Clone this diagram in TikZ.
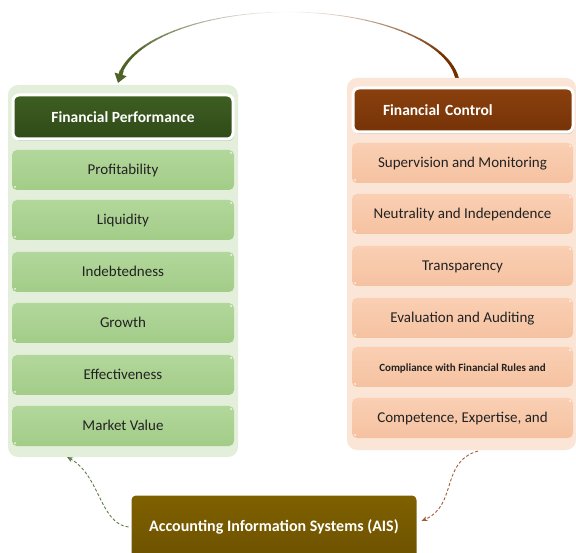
\documentclass[tikz,border=0pt]{standalone}
\usepackage{fontspec}
\setmainfont{Carlito}
\usetikzlibrary{shadows,arrows.meta,calc}

\definecolor{gPanel}{HTML}{E3EFDA}
\definecolor{gItemTop}{HTML}{B2D79B}
\definecolor{gItemBot}{HTML}{A3CC88}
\definecolor{gHeadTop}{HTML}{3E5E22}
\definecolor{gHeadBot}{HTML}{2F4A18}
\definecolor{oPanel}{HTML}{FBE5D6}
\definecolor{oItemTop}{HTML}{FACFB3}
\definecolor{oItemBot}{HTML}{F5C2A1}
\definecolor{oHeadTop}{HTML}{8A400E}
\definecolor{oHeadBot}{HTML}{763307}
\definecolor{aisTop}{HTML}{806100}
\definecolor{aisBot}{HTML}{6C5100}
\definecolor{arcR}{HTML}{743000}
\definecolor{arcL}{HTML}{4F6228}
\definecolor{dashG}{HTML}{5E7D45}
\definecolor{dashO}{HTML}{A65A35}
\definecolor{txt}{HTML}{222222}

\tikzset{
  glint/.style={path picture={
      \fill[white,opacity=0.85] ([xshift=-3pt,yshift=-3pt]path picture bounding box.north east) circle (1pt);
      \fill[white,opacity=0.85] ([xshift=3pt,yshift=3pt]path picture bounding box.south west) circle (1pt);}},
  itembox/.style={rounded corners=5pt, minimum height=40pt, text=txt, glint,
      text height=1.9ex, text depth=0pt,
      font=\fontsize{15}{17}\selectfont},
  gitem/.style={itembox, minimum width=222pt, top color=gItemTop, bottom color=gItemBot},
  oitem/.style={itembox, minimum width=221pt, top color=oItemTop, bottom color=oItemBot},
  headbox/.style={rounded corners=6pt, draw=white, line width=3pt, text=white,
      font=\bfseries\fontsize{15.5}{17}\selectfont,
      drop shadow={opacity=0.35, shadow xshift=1pt, shadow yshift=-2pt}},
  dasharrow/.style={dashed, line width=0.9pt, dash pattern=on 3pt off 2pt,
      -{Stealth[length=6pt,width=5pt]}},
}

\begin{document}
\begin{tikzpicture}[x=1pt,y=-1pt]
\useasboundingbox (0,0) rectangle (576,553);

% ---- curved arrow from Financial Control to Financial Performance
\coordinate (arcCenter) at (288,86);
\foreach \i in {-1,...,29}{
  \pgfmathsetmacro\aa{\i*3}
  \pgfmathsetmacro\bb{\i*3+3}
  \pgfmathsetmacro\tt{abs(\aa+1.5-90)/90}
  \pgfmathsetmacro\mix{100*min(1,1.4*\tt)}
  \pgfmathsetmacro\lw{0.6+3.5*\tt*\tt}
  \draw[line width=\lw pt, color=arcR!\mix!white, line cap=round]
    ($(arcCenter)+({170*cos(\aa)},{-74*sin(\aa)})$) --
    ($(arcCenter)+({170*cos(\bb)},{-74*sin(\bb)})$);
}
\foreach \i in {30,...,55}{
  \pgfmathsetmacro\aa{\i*3}
  \pgfmathsetmacro\bb{\i*3+3}
  \pgfmathsetmacro\tt{abs(\aa+1.5-90)/90}
  \pgfmathsetmacro\mix{100*min(1,1.4*\tt)}
  \pgfmathsetmacro\lw{0.6+3.5*\tt*\tt}
  \draw[line width=\lw pt, color=arcL!\mix!white, line cap=round]
    ($(arcCenter)+({170*cos(\aa)},{-74*sin(\aa)})$) --
    ($(arcCenter)+({170*cos(\bb)},{-74*sin(\bb)})$);
}
\coordinate (arcTipFrom) at ($(arcCenter)+({170*cos(168)},{-74*sin(168)})$);
\coordinate (arcTip) at ($(arcCenter)+({170*cos(180)},{-74*sin(180)})+(0,-3)$);
\draw[line width=4pt, arcL, -{Triangle[length=9pt,width=12pt]}] (arcTipFrom) -- (arcTip);

% ---- panels
\fill[gPanel, rounded corners=10pt] (8,85) rectangle (238,457);
\fill[oPanel, rounded corners=10pt] (347,78) rectangle (576,450);

% ---- left column: Financial Performance
\node[headbox, minimum width=220pt, minimum height=44pt,
      top color=gHeadTop, bottom color=gHeadBot] (fp) at (123,117) {Financial Performance};
\node[gitem] (p1) at (123,170) {Profitability};
\node[gitem] (p2) at (123,220) {Liquidity};
\node[gitem] (p3) at (123,272) {Indebtedness};
\node[gitem] (p4) at (123,323) {Growth};
\node[gitem] (p5) at (123,375) {Effectiveness};
\node[gitem] (p6) at (123,426) {Market Value};

% ---- right column: Financial Control
\node[headbox, minimum width=220pt, minimum height=44pt, text width=160pt, align=left,
      top color=oHeadTop, bottom color=oHeadBot] (fc) at (463,110) {Financial Control};
\node[oitem] (c1) at (462.5,163) {Supervision and Monitoring};
\node[oitem] (c2) at (462.5,214) {Neutrality and Independence};
\node[oitem] (c3) at (462.5,266) {Transparency};
\node[oitem] (c4) at (462.5,318) {Evaluation and Auditing};
\node[oitem, font=\bfseries\fontsize{11}{13}\selectfont] (c5) at (462.5,367) {Compliance with Financial Rules and};
\node[oitem, font=\fontsize{15}{17}\selectfont] (c6) at (462.5,418) {Competence, Expertise, and};

% ---- bottom: AIS
\node[headbox, minimum width=288pt, minimum height=66pt,
      font=\bfseries\fontsize{16}{18}\selectfont,
      top color=aisTop, bottom color=aisBot] (ais) at (274,527) {Accounting Information Systems (AIS)};

% ---- dashed links
\coordinate (gEnd) at (67,457);
\coordinate (oStart) at (478,451);
\draw[dasharrow, dashG] (ais.west) .. controls (100,524) and (100,475) .. (gEnd);
\draw[dasharrow, dashO] (oStart) .. controls (440,462) and (458,505) .. ([xshift=2pt]ais.east |- 0,521);
\end{tikzpicture}
\end{document}
